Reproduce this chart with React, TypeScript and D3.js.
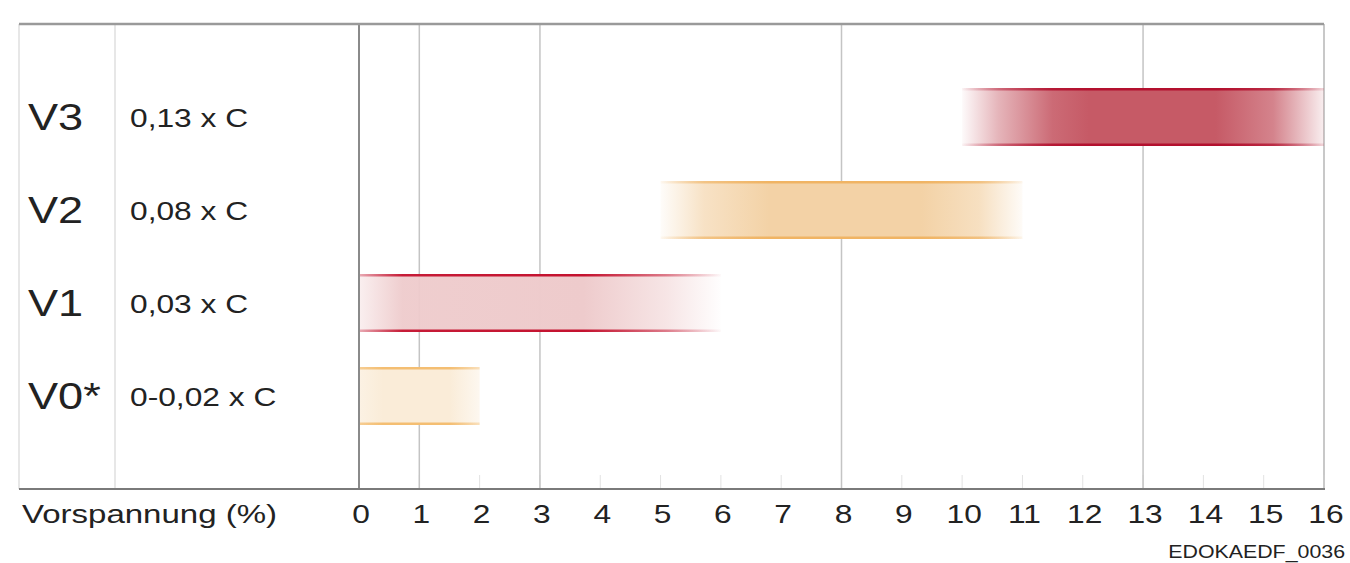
import React from "react";
import * as d3 from "d3";

const categories = ["V3", "V2", "V1", "V0*"];
const factors = ["0,13 x C", "0,08 x C", "0,03 x C", "0-0,02 x C"];
const rangeStart = [10, 5, 0, 0];
const rangeEnd = [16, 11, 6, 2];
const tickValues = [0, 1, 2, 3, 4, 5, 6, 7, 8, 9, 10, 11, 12, 13, 14, 15, 16];
const fullGridValues = [1, 3, 8, 13, 16];
const axisTitle = "Vorspannung (%)";
const codeLabel = "EDOKAEDF_0036";

// styles per bar (fill, border, opacity stops)
const barStyles = [
  { fill: "#c65a66", border: "#b3102e", stops: [[0, 0.03], [0.1, 0.45], [0.25, 0.9], [0.35, 1], [0.7, 1], [0.86, 0.75], [1, 0.1]] },
  { fill: "#f3d2a6", border: "#f0b464", stops: [[0, 0.06], [0.12, 0.65], [0.3, 1], [0.72, 1], [0.88, 0.7], [1, 0.08]] },
  { fill: "#eecbcc", border: "#c4122f", stops: [[0, 0.3], [0.12, 0.95], [0.62, 1], [0.85, 0.5], [1, 0.02]] },
  { fill: "#faecd8", border: "#f4be72", stops: [[0, 0.7], [0.2, 1], [0.75, 1], [1, 0.4]] },
];

const FONT = "'Liberation Sans', Arial, Helvetica, sans-serif";
const SX = 1.22;

export default function App() {
  const W = 1350, H = 563;
  const left = 19, top = 24, bottom = 489, divider = 115;
  const x = d3.scaleLinear().domain([0, 16]).range([359, 1324]);
  const y = d3.scalePoint<string>().domain(categories).range([117, 396]);
  const barH = 58;
  const right = x(16);

  return (
    <svg width={W} height={H} style={{ position: "absolute", left: 0, top: 0, background: "#fff" }}>
      <defs>
        {barStyles.map((s, i) => (
          <linearGradient key={"f" + i} id={"fill" + i} x1="0" x2="1" y1="0" y2="0">
            {s.stops.map(([o, a], j) => (
              <stop key={j} offset={o} stopColor={s.fill} stopOpacity={a} />
            ))}
          </linearGradient>
        ))}
        {barStyles.map((s, i) => (
          <linearGradient key={"b" + i} id={"border" + i} x1="0" x2="1" y1="0" y2="0">
            {s.stops.map(([o, a], j) => (
              <stop key={j} offset={o} stopColor={s.border} stopOpacity={a} />
            ))}
          </linearGradient>
        ))}
      </defs>

      {/* frame */}
      <line x1={left} x2={left} y1={top} y2={bottom} stroke="#cfcfcf" strokeWidth={1} />
      <line x1={divider} x2={divider} y1={top} y2={bottom} stroke="#cfcfcf" strokeWidth={1} />
      <line x1={right} x2={right} y1={top} y2={bottom} stroke="#c4c4c4" strokeWidth={1.5} />

      {/* short ticks */}
      {tickValues.map((t) => (
        <line key={"t" + t} x1={x(t)} x2={x(t)} y1={bottom - 14} y2={bottom} stroke="#e2e2e2" strokeWidth={1} />
      ))}
      {/* full grid lines */}
      {fullGridValues.map((t) => (
        <line key={"g" + t} x1={x(t)} x2={x(t)} y1={top} y2={bottom} stroke="#c4c4c4" strokeWidth={1.5} />
      ))}

      {/* bars */}
      {categories.map((c, i) => {
        const x0 = x(rangeStart[i]);
        const x1 = x(rangeEnd[i]);
        const yc = y(c) as number;
        return (
          <g key={c}>
            <rect x={x0} y={yc - barH / 2} width={x1 - x0} height={barH} fill={`url(#fill${i})`} />
            <rect x={x0} y={yc - barH / 2} width={x1 - x0} height={2.5} fill={`url(#border${i})`} />
            <rect x={x0} y={yc + barH / 2 - 2.5} width={x1 - x0} height={2.5} fill={`url(#border${i})`} />
          </g>
        );
      })}

      {/* zero line, top and bottom borders */}
      <line x1={x(0)} x2={x(0)} y1={top} y2={bottom} stroke="#8a8a8a" strokeWidth={2} />
      <line x1={left} x2={right} y1={top} y2={top} stroke="#9a9a9a" strokeWidth={2.5} />
      <line x1={left} x2={right + 1} y1={bottom} y2={bottom} stroke="#7a7a7a" strokeWidth={2} />

      {/* row labels */}
      {categories.map((c, i) => {
        const yc = y(c) as number;
        return (
          <g key={"l" + c} fontFamily={FONT} fill="#222">
            <text transform={`translate(28,${yc + 13}) scale(${SX},1)`} fontSize={37}>{c}</text>
            <text transform={`translate(130,${yc + 10}) scale(${SX},1)`} fontSize={26}>{factors[i]}</text>
          </g>
        );
      })}

      {/* axis labels */}
      <g fontFamily={FONT} fill="#222" fontSize={26}>
        <text transform={`translate(22,523) scale(1.27,1)`}>{axisTitle}</text>
        {tickValues.map((t) => (
          <text key={"tl" + t} transform={`translate(${x(t) + 2},523) scale(${SX},1)`} textAnchor="middle">{t}</text>
        ))}
      </g>
      <text transform={`translate(1345,558) scale(${SX},1)`} fontFamily={FONT} fontSize={17.5} fill="#222" textAnchor="end">{codeLabel}</text>
    </svg>
  );
}
